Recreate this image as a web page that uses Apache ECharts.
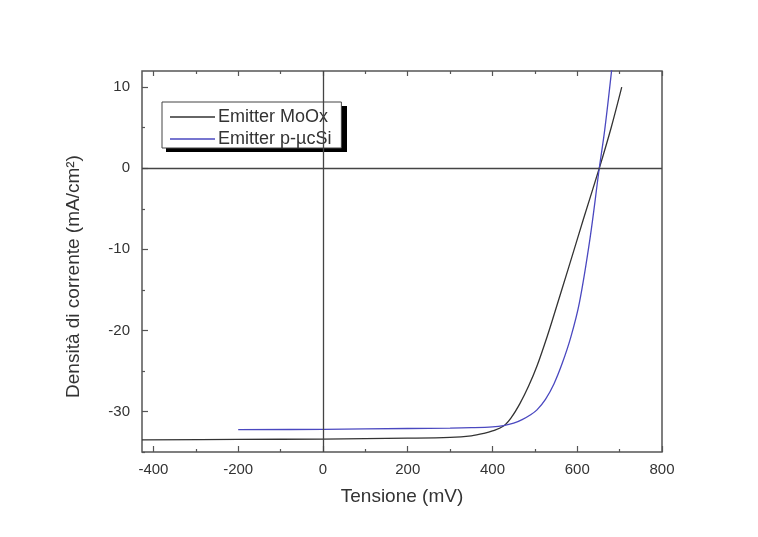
<!DOCTYPE html>
<html>
<head>
<meta charset="utf-8">
<script src="https://cdn.jsdelivr.net/npm/echarts@6/dist/echarts.min.js"></script>
<style>html,body{margin:0;padding:0;background:#fff;}#c{width:758px;height:537px;}</style>
</head>
<body>
<div id="c"></div>
<script>
// Tick labels
const xMajorTicks = [-400, -200, 0, 200, 400, 600, 800];
const xMinorTicks = [-300, -100, 100, 300, 500, 700];
const yMajorTicks = [-30, -20, -10, 0, 10];
const yMinorTicks = [-35, -25, -15, -5, 5];

// Series: Emitter MoOx  [voltage mV, current density mA/cm2]
const moox = [
  [-427, -33.5], [-200, -33.45], [0, -33.4], [200, -33.3], [300, -33.2],
  [350, -33.0], [380, -32.7], [400, -32.4], [426, -31.8], [445, -30.7],
  [465, -29.0], [485, -26.9], [505, -24.4], [530, -20.6], [548, -17.6],
  [580, -12.2], [615, -6.2], [652, 0], [680, 5.0], [705, 10.0]
];
// Series: Emitter p-µcSi
const pucsi = [
  [-200, -32.25], [0, -32.2], [200, -32.1], [300, -32.05], [350, -32.0],
  [400, -31.9], [426, -31.75], [450, -31.45], [470, -31.0], [490, -30.4],
  [505, -29.8], [525, -28.5], [545, -26.6], [565, -24.0], [585, -20.8],
  [605, -16.6], [630, -8.7], [652, 0], [665, 4.8], [682, 12.5]
];

const FONT = 'Liberation Sans, Arial, sans-serif';
const AX = '#555';
const chart = echarts.init(document.getElementById('c'), null, {renderer: 'canvas'});

function xAxisDef(pos, ticks, len, labels) {
  return {
    type: 'value', position: pos, min: -427, max: 800,
    axisLine: {show: false, onZero: false}, splitLine: {show: false},
    axisTick: {show: true, inside: true, length: len, customValues: ticks, lineStyle: {color: AX, width: 1.2}},
    axisLabel: labels ? {show: true, customValues: ticks, margin: 10, fontSize: 15, color: '#333', fontFamily: FONT} : {show: false},
  };
}
function yAxisDef(ticks, len, labels) {
  return {
    type: 'value', position: 'left', min: -35, max: 12,
    axisLine: {show: false, onZero: false}, splitLine: {show: false},
    axisTick: {show: true, inside: true, length: len, customValues: ticks, lineStyle: {color: AX, width: 1.2}},
    axisLabel: labels ? {show: true, customValues: ticks, margin: 12, fontSize: 15, color: '#333', fontFamily: FONT} : {show: false},
  };
}

const xa0 = xAxisDef('bottom', xMajorTicks, 6, true);
xa0.name = 'Tensione (mV)';
xa0.nameLocation = 'middle';
xa0.nameGap = 35;
xa0.nameTextStyle = {fontSize: 19, color: '#333', fontFamily: FONT};
const ya0 = yAxisDef(yMajorTicks, 6, true);
ya0.name = 'Densità di corrente (mA/cm²)';
ya0.nameLocation = 'middle';
ya0.nameGap = 59;
ya0.nameTextStyle = {fontSize: 19, color: '#333', fontFamily: FONT, padding: [0, 30, 0, 0]};

chart.setOption({
  animation: false,
  backgroundColor: '#fff',
  grid: {left: 142, right: 96, top: 71, bottom: 85, show: true, borderColor: AX, borderWidth: 1.5, backgroundColor: 'transparent'},
  graphic: [{
    type: 'rect', left: 166, top: 106, z: 1,
    shape: {width: 181, height: 46},
    style: {fill: '#000'}
  }],
  legend: {
    orient: 'vertical', left: 162, top: 102, z: 5,
    padding: [6, 10, 0, 8], itemWidth: 45, itemHeight: 1.5, itemGap: 4,
    icon: 'rect',
    backgroundColor: '#fff', borderColor: '#444', borderWidth: 1,
    textStyle: {fontSize: 18, color: '#333', fontFamily: FONT, padding: [0, 0, 0, -2]},
    data: ['Emitter MoOx', 'Emitter p-µcSi']
  },
  xAxis: [
    xa0,
    xAxisDef('bottom', xMinorTicks, 3, false),
    xAxisDef('top', xMajorTicks, 5, false),
    xAxisDef('top', xMinorTicks, 3, false)
  ],
  yAxis: [
    ya0,
    yAxisDef(yMinorTicks, 3, false)
  ],
  series: [
    {
      name: 'Emitter MoOx', type: 'line', data: moox, smooth: 0.35, symbol: 'none', clip: true,
      lineStyle: {color: '#333', width: 1.3}, itemStyle: {color: '#333'},
      markLine: {
        silent: true, symbol: 'none', label: {show: false},
        lineStyle: {color: '#444', width: 1.3, type: 'solid'},
        data: [{xAxis: 0}, {yAxis: 0}]
      },
      z: 3
    },
    {
      name: 'Emitter p-µcSi', type: 'line', data: pucsi, smooth: 0.35, symbol: 'none', clip: true,
      lineStyle: {color: '#4a48c0', width: 1.3}, itemStyle: {color: '#4a48c0'},
      z: 3
    }
  ]
});
</script>
</body>
</html>
